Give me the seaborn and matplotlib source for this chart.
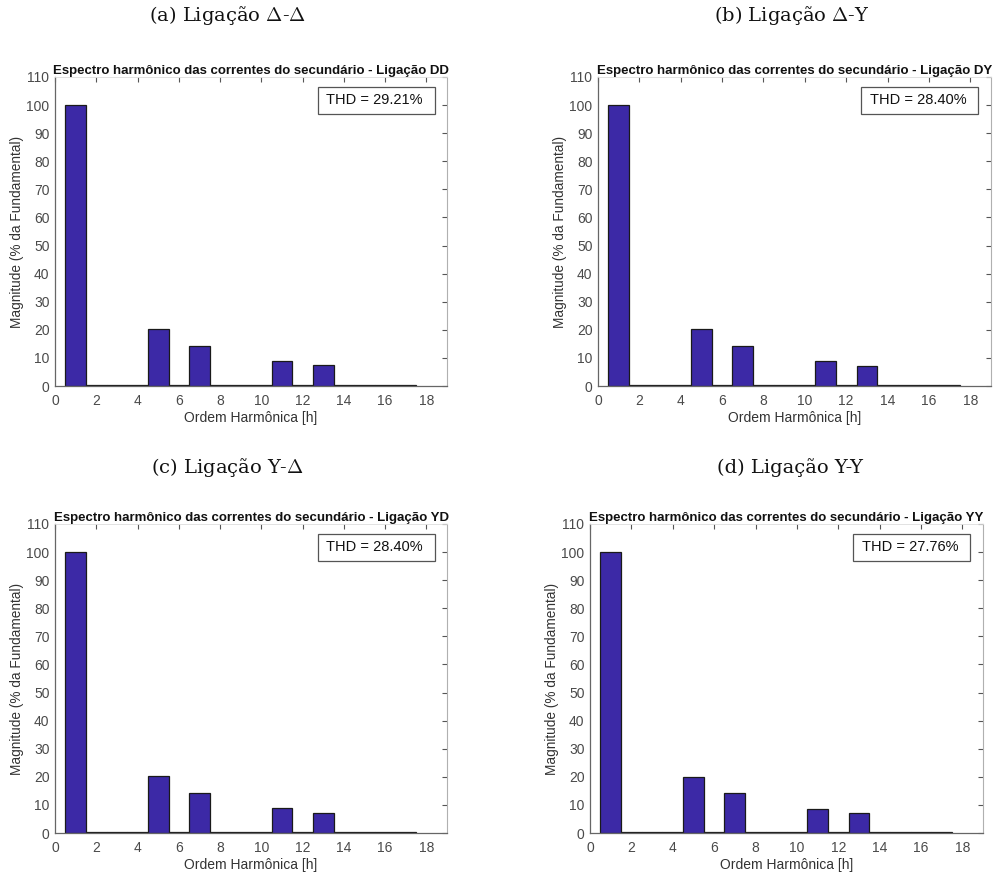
import numpy as np
import pandas as pd
import matplotlib
matplotlib.use("Agg")
import matplotlib.pyplot as plt
from matplotlib.patches import Rectangle
import seaborn as sns

# ---- data ----
harmonics = list(range(1, 18))
mag_dd = [100, 0.2, 0.2, 0.2, 20.15, 0.2, 14.2, 0.2, 0.2, 0.2, 9.0, 0.2, 7.45, 0.2, 0.2, 0.2, 0.2]
mag_dy = [100, 0.2, 0.2, 0.2, 20.15, 0.2, 14.2, 0.2, 0.2, 0.2, 8.8, 0.2, 7.2, 0.2, 0.2, 0.2, 0.2]
mag_yd = [100, 0.2, 0.2, 0.2, 20.15, 0.2, 14.2, 0.2, 0.2, 0.2, 8.85, 0.2, 7.2, 0.2, 0.2, 0.2, 0.2]
mag_yy = [100, 0.2, 0.2, 0.2, 20.0, 0.2, 14.1, 0.2, 0.2, 0.2, 8.65, 0.2, 7.0, 0.2, 0.2, 0.2, 0.2]
thd_values = ["29.21%", "28.40%", "28.40%", "27.76%"]
connections = ["DD", "DY", "YD", "YY"]
captions = [r"(a) Ligação $\Delta$-$\Delta$", r"(b) Ligação $\Delta$-Y",
            r"(c) Ligação Y-$\Delta$", r"(d) Ligação Y-Y"]
xticks = list(range(0, 19, 2))
yticks = list(range(0, 111, 10))

sns.set_style("white")
plt.rcParams['font.family'] = ['Liberation Sans', 'DejaVu Sans']
plt.rcParams['mathtext.fontset'] = 'cm'

fig = plt.figure(figsize=(9.95, 8.73), dpi=100)

positions = [
    [0.0553, 0.5578, 0.394, 0.354],
    [0.601, 0.5578, 0.395, 0.354],
    [0.0553, 0.0458, 0.394, 0.354],
    [0.593, 0.0458, 0.395, 0.354],
]
caption_xy = [(0.229, 0.982), (0.796, 0.982), (0.229, 0.464), (0.794, 0.464)]

bar_color = "#3C29A6"
tick_color = "#555555"
all_mags = [mag_dd, mag_dy, mag_yd, mag_yy]

for i in range(4):
    ax = fig.add_axes(positions[i])
    df = pd.DataFrame({"h": harmonics, "mag": all_mags[i]})
    sns.barplot(data=df, x="h", y="mag", native_scale=True, width=1.0,
                color=bar_color, saturation=1, edgecolor="#1a1a1a",
                linewidth=0.9, ax=ax)
    ax.set_xlim(0, 19)
    ax.set_ylim(0, 110)
    ax.set_xticks(xticks)
    ax.set_yticks(yticks)
    ax.tick_params(axis="both", direction="in", length=3.5, width=0.8,
                   colors=tick_color, labelsize=10, top=True, right=True,
                   labelcolor="#4a4a4a")
    ax.tick_params(axis="x", pad=6)
    ax.tick_params(axis="y", pad=4)
    for s in ["left", "bottom"]:
        ax.spines[s].set_color("#666666")
        ax.spines[s].set_linewidth(0.9)
    ax.spines["top"].set_visible(True)
    ax.spines["top"].set_color("#dddddd")
    ax.spines["top"].set_linewidth(0.6)
    ax.spines["right"].set_visible(True)
    ax.spines["right"].set_color("#b0b0b0")
    ax.spines["right"].set_linewidth(0.8)
    ax.set_xlabel("Ordem Harmônica [h]", fontsize=10, color="#333333", labelpad=2)
    ax.set_ylabel("Magnitude (% da Fundamental)", fontsize=9.8, color="#333333", labelpad=2)
    ax.set_title(f"Espectro harmônico das correntes do secundário - Ligação {connections[i]}",
                 fontsize=9.5, fontweight="bold", color="#111111", pad=2)
    ax.add_patch(Rectangle((0.670, 0.880), 0.298, 0.088, transform=ax.transAxes,
                           facecolor="white", edgecolor="#555555", linewidth=0.9, zorder=5))
    ax.text(0.692, 0.925, f"THD = {thd_values[i]}", transform=ax.transAxes,
            fontsize=10.5, color="#111111", va="center", ha="left", zorder=6)
    fig.text(caption_xy[i][0], caption_xy[i][1], captions[i], ha="center", va="center",
             fontsize=14, family=["DejaVu Serif"], color="#111111")

fig.savefig("out.png", dpi=100)
